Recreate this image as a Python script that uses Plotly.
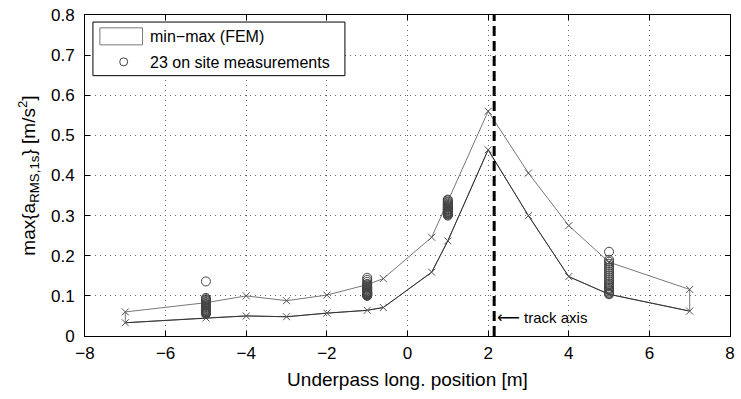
import plotly.graph_objects as go

# FEM min-max envelope
fem_x_upper = [-7, -5, -4, -3, -2, -1, -0.6, 0.6, 2, 3, 4, 5, 7]
fem_upper = [0.060, 0.083, 0.100, 0.088, 0.102, 0.128, 0.143, 0.246, 0.560, 0.406, 0.275, 0.184, 0.116]
fem_x_lower = [-7, -5, -4, -3, -2, -1, -0.6, 0.6, 1, 2, 3, 4, 5, 7]
fem_lower = [0.033, 0.045, 0.050, 0.048, 0.057, 0.064, 0.071, 0.159, 0.237, 0.464, 0.300, 0.148, 0.104, 0.062]

# On-site measurements (23 at each location)
meas_x_pos = [-5, -1, 1, 5]
meas_m5 = [0.136, 0.095, 0.092, 0.090, 0.088, 0.085, 0.083, 0.080, 0.078, 0.076, 0.074, 0.072,
           0.070, 0.068, 0.066, 0.064, 0.063, 0.062, 0.060, 0.059, 0.058, 0.057, 0.055]
meas_m1 = [0.145, 0.140, 0.135, 0.130, 0.128, 0.125, 0.122, 0.120, 0.118, 0.116, 0.114, 0.112,
           0.110, 0.109, 0.108, 0.107, 0.106, 0.105, 0.104, 0.103, 0.102, 0.101, 0.100]
meas_p1 = [0.340, 0.338, 0.335, 0.333, 0.330, 0.328, 0.326, 0.324, 0.322, 0.320, 0.318, 0.316,
           0.315, 0.314, 0.312, 0.310, 0.309, 0.308, 0.306, 0.305, 0.304, 0.302, 0.300]
meas_p5 = [0.210, 0.190, 0.185, 0.180, 0.175, 0.170, 0.165, 0.160, 0.155, 0.150, 0.145, 0.140,
           0.135, 0.130, 0.127, 0.124, 0.120, 0.117, 0.114, 0.111, 0.108, 0.106, 0.104]

track_axis_x = 2.15
legend_labels = ["min\u2212max (FEM)", "23 on site measurements"]
x_ticks = [-8, -6, -4, -2, 0, 2, 4, 6, 8]
y_ticks = [0, 0.1, 0.2, 0.3, 0.4, 0.5, 0.6, 0.7, 0.8]

FONT = "Liberation Sans, Arial, sans-serif"

fig = go.Figure()

poly_x = fem_x_upper + fem_x_lower[::-1] + [fem_x_upper[0]]
poly_y = fem_upper + fem_lower[::-1] + [fem_upper[0]]
fig.add_trace(go.Scatter(
    x=poly_x, y=poly_y, mode="lines",
    line=dict(color="#777777", width=1), showlegend=False))
fig.add_trace(go.Scatter(
    x=fem_x_lower, y=fem_lower, mode="lines+markers",
    line=dict(color="#333333", width=1),
    marker=dict(symbol="x-thin", size=7, line=dict(color="#555555", width=1)),
    showlegend=False))
fig.add_trace(go.Scatter(
    x=fem_x_upper, y=fem_upper, mode="markers",
    marker=dict(symbol="x-thin", size=7, line=dict(color="#555555", width=1)),
    showlegend=False))

mx, my = [], []
for xp, vals in zip(meas_x_pos, [meas_m5, meas_m1, meas_p1, meas_p5]):
    mx += [xp] * len(vals)
    my += vals
fig.add_trace(go.Scatter(
    x=mx, y=my, mode="markers", name=legend_labels[1], showlegend=False,
    marker=dict(symbol="circle-open", size=9, color="#444444", line=dict(width=1))))

# track axis
fig.add_shape(type="line", x0=track_axis_x, x1=track_axis_x, y0=0, y1=0.8,
              line=dict(color="black", width=3, dash="10px,5px"))
fig.add_annotation(x=track_axis_x + 0.02, y=0.045,
                   text="<span style='font-family:DejaVu Sans;font-size:16px'>\u27f5</span> track axis",
                   showarrow=False,
                   xanchor="left", yanchor="middle", font=dict(size=15, color="black", family=FONT))

# manual legend (hollow box symbol as in the reference)
fig.add_shape(type="rect", xref="paper", yref="paper", x0=0.0123, x1=0.403, y0=0.811, y1=0.978,
              line=dict(color="black", width=1), fillcolor="white", layer="above")
fig.add_shape(type="rect", xref="paper", yref="paper", x0=0.0231, x1=0.0892, y0=0.907, y1=0.960,
              line=dict(color="#777777", width=1), fillcolor="white", layer="above")
fig.add_shape(type="circle", xref="paper", yref="paper", xsizemode="pixel", ysizemode="pixel",
              xanchor=0.06, yanchor=0.854, x0=-4, x1=4, y0=-4, y1=4,
              line=dict(color="#444444", width=1), layer="above")
fig.add_annotation(xref="paper", yref="paper", x=0.0969, y=0.932, text=legend_labels[0],
                   showarrow=False, xanchor="left", yanchor="middle",
                   font=dict(size=16, color="black", family=FONT))
fig.add_annotation(xref="paper", yref="paper", x=0.0969, y=0.851, text=legend_labels[1],
                   showarrow=False, xanchor="left", yanchor="middle",
                   font=dict(size=16, color="black", family=FONT))

axis_common = dict(showline=True, linecolor="black", linewidth=1, mirror="ticks",
                   ticks="inside", ticklen=5, tickcolor="black",
                   showgrid=True, gridcolor="#666666", griddash="1px,4px", gridwidth=1,
                   zeroline=False, tickfont=dict(size=17, color="black", family=FONT))

fig.update_xaxes(range=[-8, 8], tickvals=x_ticks, ticktext=[str(v).replace("-", "\u2212") for v in x_ticks],
                 title=dict(text="Underpass long. position [m]", font=dict(size=19, color="black", family=FONT), standoff=10),
                 ticklabelstandoff=2, **axis_common)
fig.update_yaxes(range=[0, 0.8], tickvals=y_ticks, ticktext=["0"] + [f"{v:.1f}" for v in y_ticks[1:]],
                 title=dict(text="max{a<sub>RMS,1s</sub>} [m/s<sup>2</sup>]", font=dict(size=19, color="black", family=FONT), standoff=10),
                 ticklabelstandoff=6, **axis_common)

fig.update_layout(
    width=741, height=399,
    margin=dict(l=85, r=6, t=13, b=63),
    plot_bgcolor="white", paper_bgcolor="white",
    font=dict(family=FONT, color="black"),
    showlegend=False,
)

fig.write_html("out.html")
